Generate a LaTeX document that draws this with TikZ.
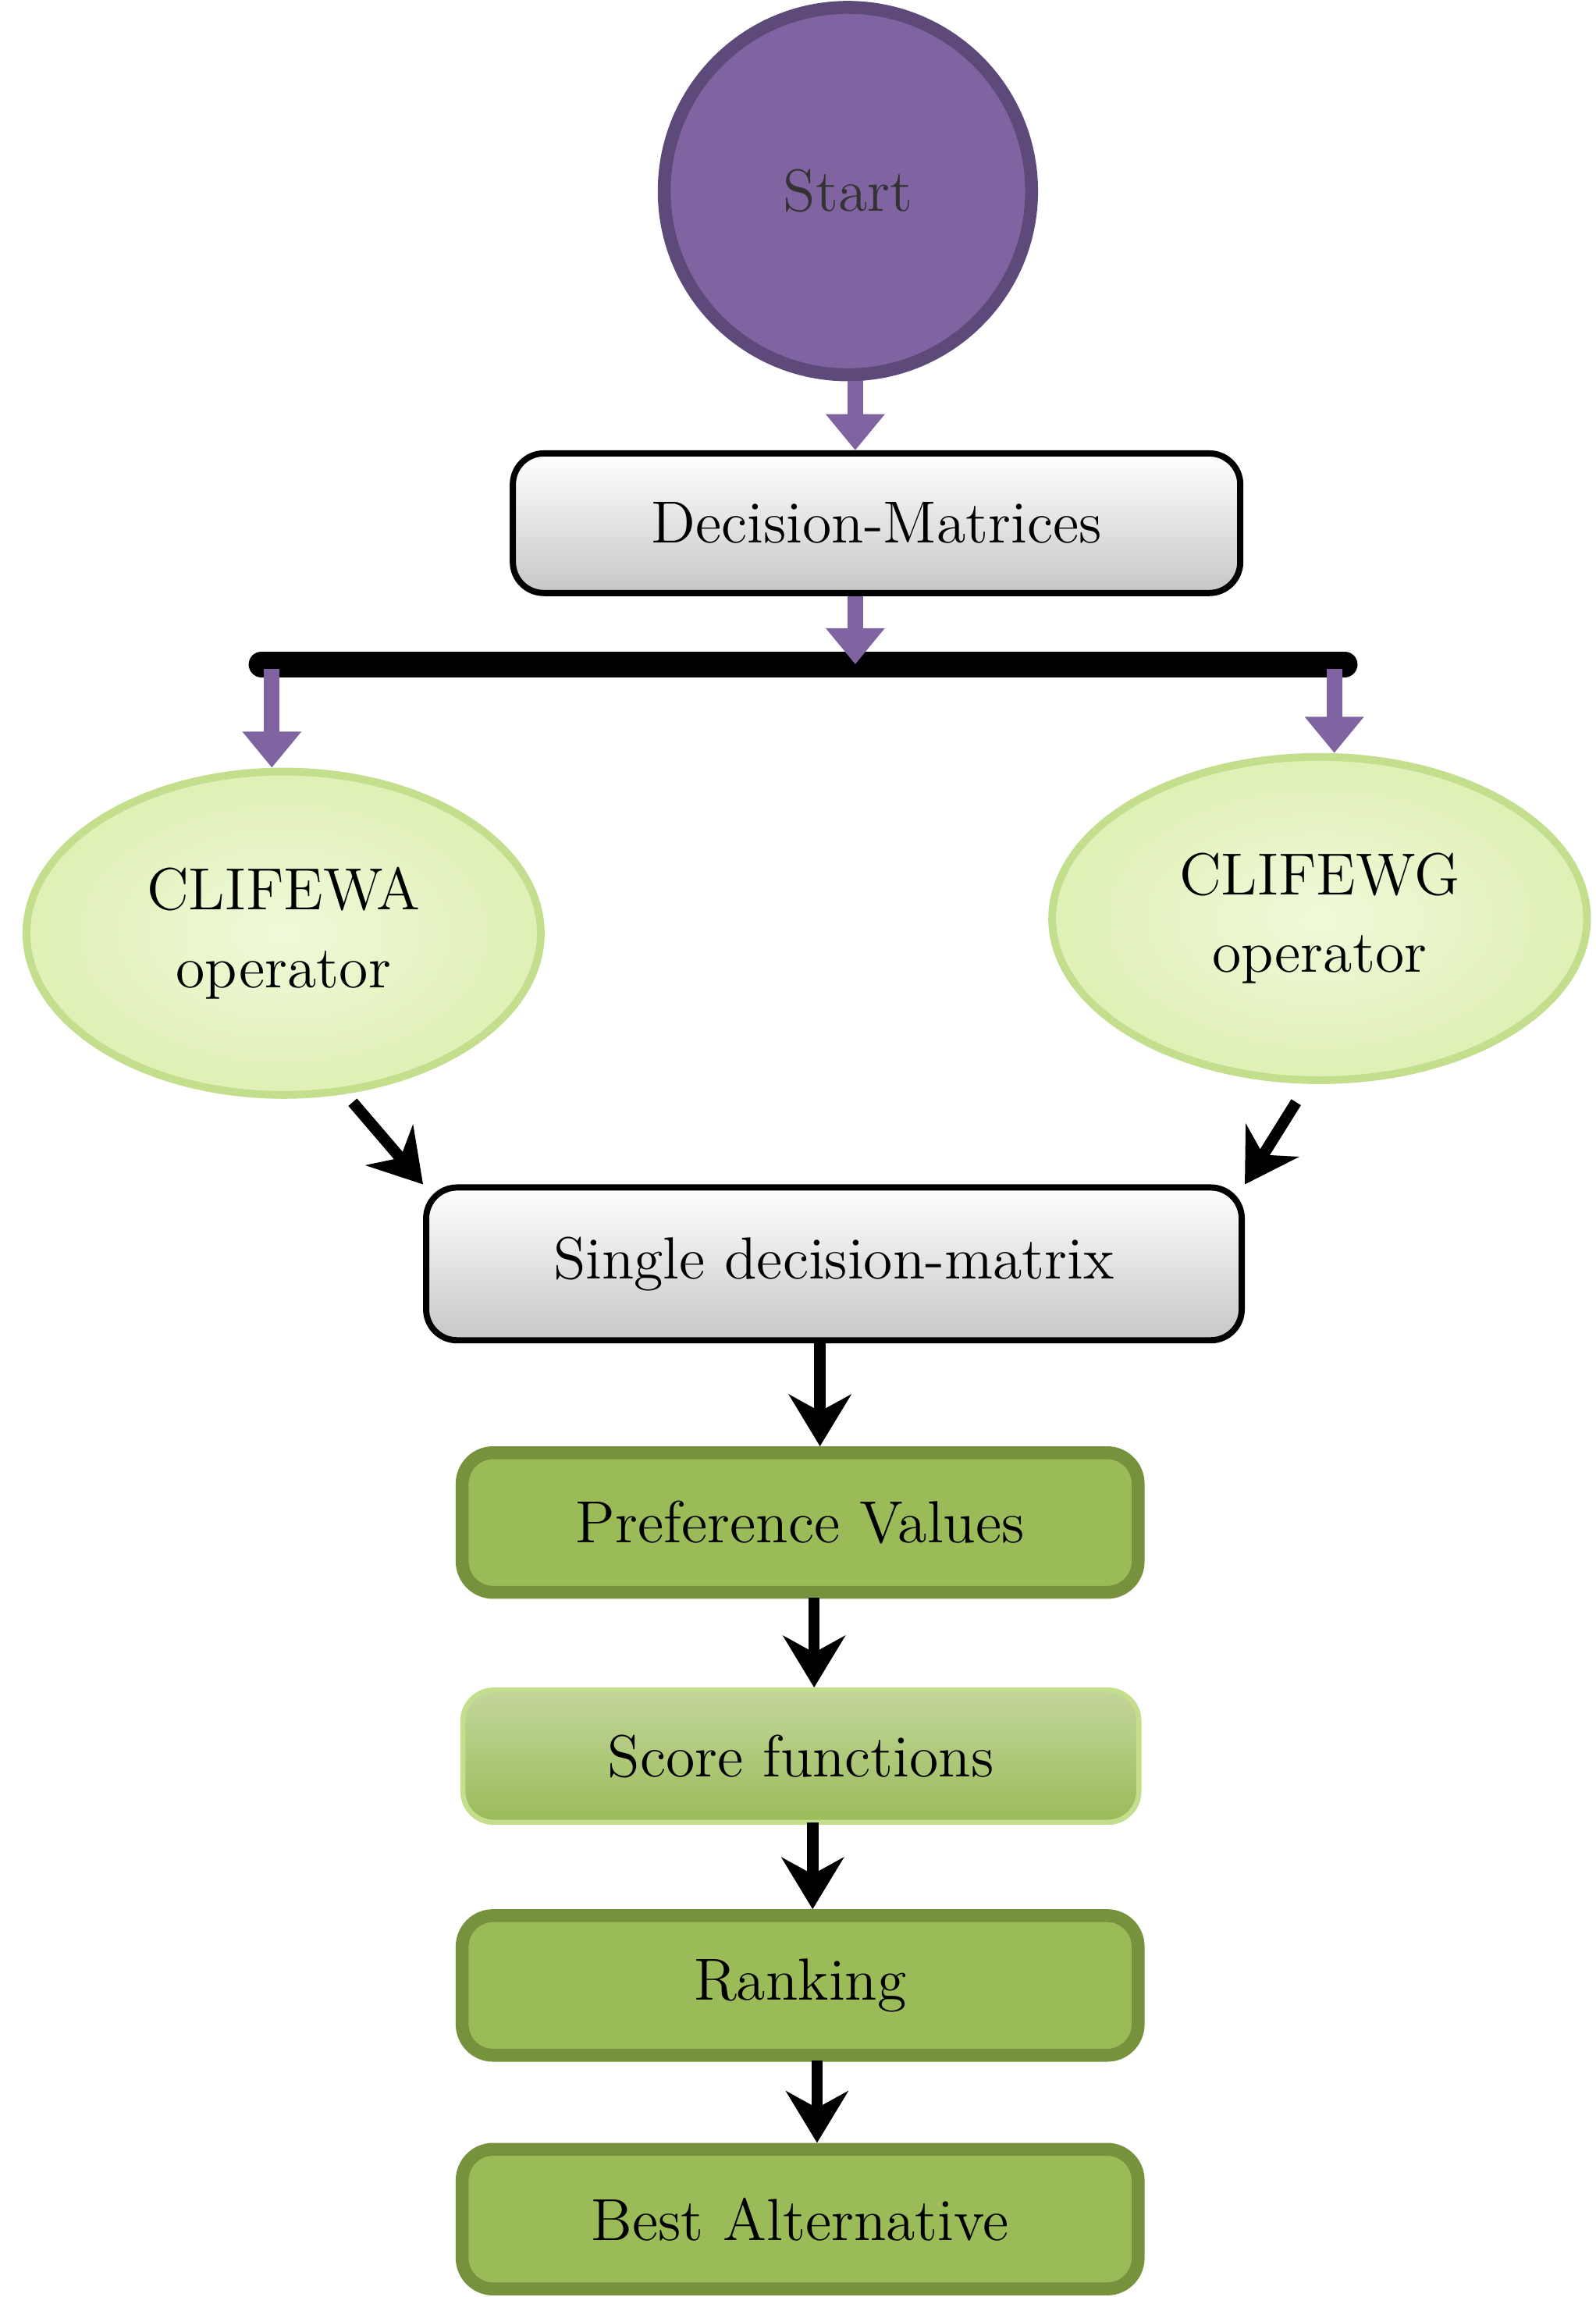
\documentclass[tikz,border=0pt]{standalone}
\usetikzlibrary{arrows.meta,shapes.geometric}
\definecolor{purp}{HTML}{8064A2}
\definecolor{purpd}{HTML}{5E4A7A}
\definecolor{gr}{HTML}{9BBB59}
\definecolor{grd}{HTML}{76923C}
\definecolor{lg}{HTML}{E6F5C0}
\definecolor{lgb}{HTML}{C3DE8C}
\begin{document}
\begin{tikzpicture}[x=1cm,y=-1cm,
  every node/.style={font=\fontsize{11.5}{15}\selectfont},
  graybox/.style={draw=black,line width=1.2pt,rounded corners=6pt,top color=white,bottom color=black!22,minimum height=0.95cm,inner sep=0pt},
  greenbox/.style={draw=grd,line width=2.5pt,rounded corners=6pt,fill=gr,minimum width=4.6cm,minimum height=0.95cm,inner sep=0pt},
  lightbox/.style={draw=lgb,line width=1pt,rounded corners=6pt,top color=gr!60,bottom color=gr,minimum width=4.6cm,minimum height=0.9cm,inner sep=0pt},
  oval/.style={ellipse,draw=lgb,line width=1.5pt,inner color=lg!60,outer color=lg!80!lgb,align=center},
  parr/.style={draw=purp,line width=3pt,-{Triangle[length=7pt,width=11pt]}},
  barr/.style={draw=black,line width=2.2pt,-{Stealth[length=10pt,width=12pt]}}]
\useasboundingbox (0,0) rectangle (10.86,15.63);
\node[circle,draw=purpd,line width=2.5pt,fill=purp,minimum size=2.5cm,text=black!80] (start) at (5.77,1.30) {Start};
\node[graybox,minimum width=4.95cm] (dm) at (5.965,3.56) {Decision-Matrices};
\coordinate (bm) at (5.82,4.52);
\coordinate (bl) at (1.78,4.52);
\coordinate (br) at (9.15,4.52);
\draw[line width=5pt,line cap=round] (bl) -- (br);
\coordinate (l1) at (1.85,4.55);
\coordinate (r1) at (9.08,4.55);
\node[oval,minimum width=3.5cm,minimum height=2.2cm] (ea) at (1.93,6.35) {CLIFEWA\\operator};
\node[oval,minimum width=3.64cm,minimum height=2.2cm] (eg) at (8.98,6.25) {CLIFEWG\\operator};
\node[graybox,minimum width=5.55cm,minimum height=1.04cm] (sd) at (5.675,8.6) {Single decision-matrix};
\node[greenbox] (pv) at (5.445,10.36) {Preference Values};
\node[lightbox] (sf) at (5.45,11.95) {Score functions};
\node[greenbox] (rk) at (5.445,13.51) {Ranking};
\node[greenbox] (ba) at (5.445,15.10) {Best Alternative};
\draw[parr] (start.south -| bm) -- (dm.north -| bm);
\draw[parr] (dm.south -| bm) -- (bm);
\draw[parr] (l1) -- (ea.north -| l1);
\draw[parr] (r1) -- (eg.north -| r1);
\draw[barr] (2.40,7.50) -- (sd.north west);
\draw[barr] (8.82,7.50) -- (sd.north east);
\draw[barr] (5.58,9.12) -- (pv.north -| 5.58,0);
\draw[barr] (5.54,10.87) -- (sf.north -| 5.54,0);
\draw[barr] (5.53,12.40) -- (rk.north -| 5.53,0);
\draw[barr] (5.56,14.02) -- (ba.north -| 5.56,0);
\end{tikzpicture}
\end{document}
